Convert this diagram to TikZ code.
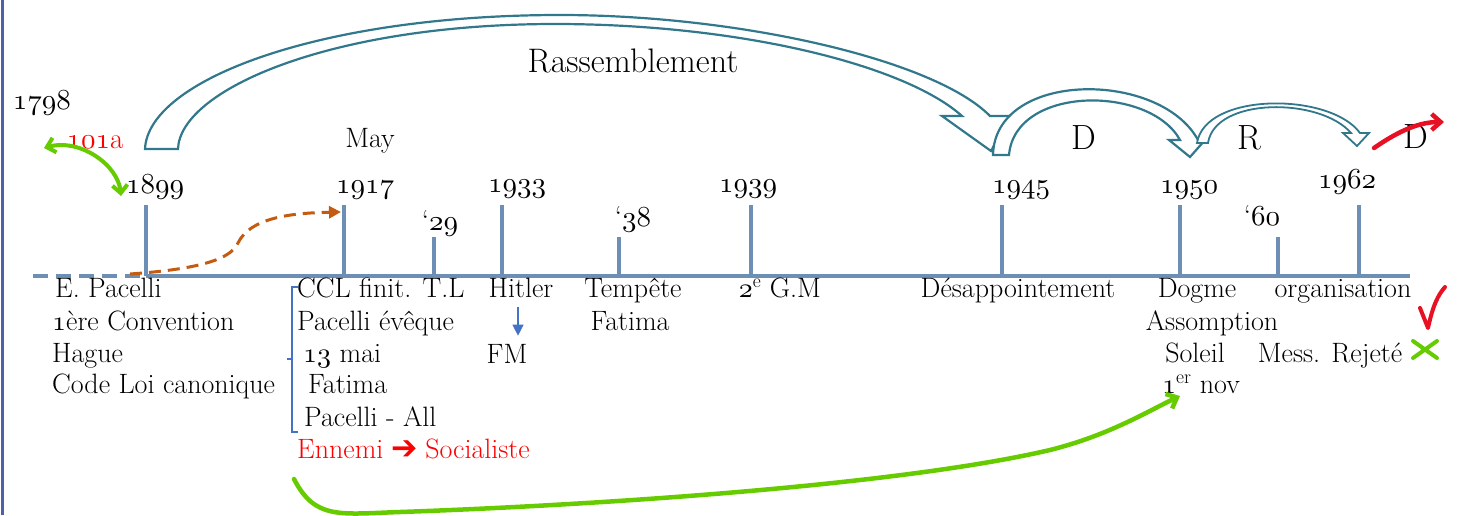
\documentclass[tikz,border=0pt]{standalone}
\usepackage{pifont}
\usetikzlibrary{arrows.meta}
\usetikzlibrary{positioning}

\definecolor{axisblue}{RGB}{109,143,181}
\definecolor{arrowteal}{RGB}{49,120,140}
\definecolor{markgreen}{RGB}{102,204,0}
\definecolor{markorange}{RGB}{197,90,17}
\definecolor{markred}{RGB}{232,17,35}
\definecolor{bracketblue}{RGB}{68,114,196}
\definecolor{frameblue}{RGB}{80,96,168}

\DeclareFontFamily{OML}{osf}{\skewchar\font=127 }
\DeclareFontShape{OML}{osf}{m}{it}{<->cmmi10}{}
\newcommand{\yr}[1]{{\fontencoding{OML}\fontfamily{osf}\fontseries{m}\fontshape{it}\selectfont #1}}

\begin{document}
\begin{tikzpicture}[x=1pt,y=-1pt,
  every node/.style={inner sep=0pt,anchor=base,font=\fontsize{28}{32}\selectfont},
  year/.style={font=\fontsize{29}{32}\selectfont},
  big/.style={font=\fontsize{35}{40}\selectfont},
  leftline/.style={anchor=base west},
  tickline/.style={draw=axisblue,line width=4pt},
  hollow/.style={draw=arrowteal,line width=2.2pt,fill=white,line join=miter},
  scribble/.style={line width=4.5pt,line cap=round,-{Straight Barb[length=9pt,width=16pt]}}]
\useasboundingbox (0,0) rectangle (1459,515);
\draw[frameblue,line width=3pt] (2,0) -- (2,515);

\draw[hollow] (145,149) .. controls (148,80) and (320,15) .. (560,15) .. controls (740,15) and (935,60) .. (990,116) -- (1010,116) -- (991,151) -- (942,116) -- (962,116) .. controls (905,65) and (740,24) .. (555,24) .. controls (330,24) and (180,90) .. (178,149) -- cycle;
\draw[hollow] (993,155) .. controls (995,70) and (1160,70) .. (1198,140) -- (1205,140) -- (1190,157) -- (1169,140) -- (1180,140) .. controls (1150,85) and (1015,85) .. (1009,155) -- cycle;
\draw[hollow,line width=1.8pt] (1197,143) .. controls (1205,92) and (1330,92) .. (1360,133) -- (1369,133) -- (1357,146) -- (1343,133) -- (1351,133) .. controls (1320,97) and (1215,97) .. (1208,143) -- cycle;

\node[font=\fontsize{34}{40}\selectfont] (rass) at (633,72) {Rassemblement};
\node[big] (d1) at (1084,149) {D};
\node[big] (r1) at (1249,149) {R};
\node[big] (d2) at (1416,148) {D};

\node[year] (n1798) at (42,109) {\yr{1798}};
\node[year,text=red] (n101a) at (95,148) {\yr{101}a};
\node[year] (n1899) at (155,193) {\yr{1899}};
\node (may) at (370,147) {May};
\node[year] (n1917) at (365,193) {\yr{1917}};
\node[year] (n29) at (440,230) {‘\yr{29}};
\node[year] (n1933) at (517,192) {\yr{1933}};
\node[year] (n38) at (633,226) {‘\yr{38}};
\node[year] (n1939) at (748,192) {\yr{1939}};
\node[year] (n1945) at (1021,193) {\yr{1945}};
\node[year] (n1950) at (1189,193) {\yr{1950}};
\node[year] (n60) at (1262,225) {‘\yr{60}};
\node[year] (n1962) at (1347,188) {\yr{1962}};

\draw[tickline,dash pattern=on 15pt off 8pt] (33,276) -- (146,276);
\draw[tickline] (146,276) -- (1410,276);
\foreach \x/\top in {146/205,344/205,434/237,502/205,619/237,751/205,1002/205,1180/205,1278/237,1359/205}
  \draw[tickline] (\x,276) -- (\x,\top);

\node[leftline] (pacelli) at (55,297) {E. Pacelli};
\node[leftline] (conv) at (52,330) {\yr{1}ère Convention};
\node[leftline] (hague) at (52,362) {Hague};
\node[leftline] (code) at (52,393) {Code Loi canonique};
\node[leftline] (ccl) at (297,297) {CCL finit. T.L};
\node[leftline] (eveque) at (297,330) {Pacelli évêque};
\node[leftline] (mai) at (303,362) {\yr{13} mai};
\node[leftline] (fatima1) at (308,393) {Fatima};
\node[leftline] (all) at (304,426) {Pacelli - All};
\node[leftline,text=red] (ennemi) at (297,458) {Ennemi \ding{212} Socialiste};
\node (hitler) at (521,297) {Hitler};
\node (fm) at (507,363) {FM};
\node (tempete) at (633,297) {Tempête};
\node (fatima2) at (630,330) {Fatima};
\node (gm) at (780,297) {\yr{2}\textsuperscript{e} G.M};
\node (desapp) at (1018,297) {Désappointement};
\node (dogme) at (1197,297) {Dogme};
\node (assomp) at (1212,330) {Assomption};
\node (soleil) at (1195,362) {Soleil};
\node (nov) at (1201,393) {\yr{1}\textsuperscript{er} nov};
\node (orga) at (1343,297) {organisation};
\node (rejete) at (1330,362) {Mess. Rejeté};

\draw[bracketblue,line width=2.5pt] (298,287) -- (292,287) -- (292,432) -- (298,432);
\draw[bracketblue,line width=2.5pt] (292,359) -- (287,359);
\draw[bracketblue,line width=1.2pt,-{Triangle[length=11pt,width=11pt]}] ([shift={(-3,10)}]hitler.south) -- ([shift={(11,-8)}]fm.north);

\coordinate (orangestart) at (130,274);
\coordinate (k1917) at (341,212);
\draw[markorange,line width=3pt,dash pattern=on 12pt off 7pt,-{Triangle[length=12pt,width=12pt]}] (orangestart) .. controls (215,268) and (232,255) .. (238,243) .. controls (250,218) and (290,213) .. (k1917);

\coordinate (greenl) at (44,148);
\coordinate (greenr) at (121,196);
\draw[markgreen,line width=4pt,line cap=round,{Straight Barb[length=8pt,width=15pt]}-{Straight Barb[length=8pt,width=15pt]}] (greenl) .. controls (80,138) and (118,165) .. (greenr);

\coordinate (gstart) at (294,479);
\coordinate (gend) at (1180,396);
\draw[scribble,markgreen] (gstart) .. controls (315,520) and (340,514) .. (400,512) .. controls (600,505) and (900,485) .. (1050,450) .. controls (1110,435) and (1150,410) .. (gend);

\coordinate (redstart) at (1374,148);
\coordinate (redend) at (1444,122);
\draw[scribble,markred] (redstart) .. controls (1400,130) and (1420,122) .. (redend);

\draw[markred,line width=4pt,line cap=round,line join=round] (1420,308) .. controls (1424,318) .. (1428,328) .. controls (1433,305) and (1438,295) .. (1445,287);
\draw[markgreen,line width=4pt,line cap=round] (1413,341) -- (1437,358) (1413,358) -- (1437,341);
\end{tikzpicture}
\end{document}
